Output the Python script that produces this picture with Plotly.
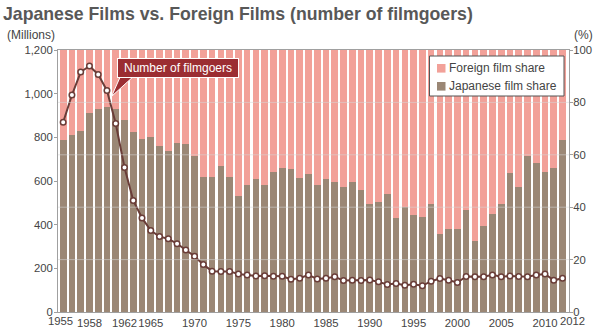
import plotly.graph_objects as go

# ---------------- data ----------------
years = list(range(1955, 2013))

filmgoers_millions = [
    869, 994, 1099, 1127, 1088, 1014, 863, 662, 511, 431,
    373, 346, 335, 313, 284, 255, 217, 187, 185, 186,
    174, 170, 165, 166, 164, 164, 150, 155, 170, 151,
    155, 161, 144, 145, 144, 146, 138, 126, 131, 123,
    127, 120, 141, 153, 145, 135, 163, 161, 162, 170,
    161, 165, 163, 161, 169, 174, 145, 155,
]

japanese_share = [
    65.7, 67.4, 69.1, 76.1, 77.4, 78.3, 77.3, 73.2, 68.8, 66.2,
    66.7, 63.2, 61.3, 64.5, 64.2, 59.4, 51.4, 51.7, 55.9, 51.4,
    44.4, 48.4, 50.7, 48.6, 53.5, 55.0, 54.4, 51.1, 52.6, 48.6,
    50.9, 49.7, 47.9, 49.6, 46.5, 41.3, 41.9, 44.9, 35.7, 40.0,
    36.9, 36.3, 41.3, 29.9, 31.7, 31.5, 38.9, 27.1, 33.0, 37.5,
    41.3, 53.2, 47.7, 59.5, 56.9, 53.6, 54.9, 65.7,
]
foreign_share = [round(100 - v, 1) for v in japanese_share]

x_tick_years = [1958, 1962, 1965, 1970, 1975, 1980, 1985,
                1990, 1995, 2000, 2005, 2010]
first_year_label = "1955"
last_year_label = "2012"
left_ticks = [0, 200, 400, 600, 800, 1000, 1200]
right_ticks = [0, 20, 40, 60, 80, 100]
grid_levels = [20, 40, 60, 80]

title_text = "Japanese Films vs. Foreign Films (number of filmgoers)"
callout_text = "Number of filmgoers"
legend_labels = ["Foreign film share", "Japanese film share"]

# ---------------- style ----------------
PINK = "#F2A199"
BROWN = "#9B8775"
LINE = "#6A3D38"
RED = "#9B2D32"
AXIS = "#A0A0A0"
TXT = "#444444"
FONT = "Liberation Sans, Arial, Helvetica, sans-serif"
TICK_SIZE = 11.3

L, R, T, B = 58, 24, 50, 18
W, H = 593, 330
PW, PH = W - L - R, H - T - B


def px(X):
    return (X - L) / PW


def py(Y):
    return (H - B - Y) / PH


fig = go.Figure()

fig.add_trace(go.Bar(
    x=years, y=japanese_share, name=legend_labels[1],
    marker=dict(color=BROWN, line=dict(width=0)), yaxis="y",
    showlegend=False, hoverinfo="skip",
))
fig.add_trace(go.Bar(
    x=years, y=foreign_share, name=legend_labels[0],
    marker=dict(color=PINK, line=dict(width=0)), yaxis="y",
    showlegend=False, hoverinfo="skip",
))
fig.add_trace(go.Scatter(
    x=years, y=filmgoers_millions, name=callout_text, yaxis="y2",
    mode="lines+markers", showlegend=False,
    line=dict(color=LINE, width=2),
    marker=dict(symbol="circle", size=5.5, color="white",
                line=dict(color=LINE, width=1.5)),
))

shapes = []
for g in grid_levels:
    shapes.append(dict(type="line", xref="paper", yref="y", x0=0, x1=1,
                       y0=g, y1=g, layer="above",
                       line=dict(color="rgba(215,215,215,0.55)", width=1)))
# callout pointer
shapes.append(dict(
    type="path", xref="paper", yref="paper", layer="above",
    path=f"M {px(121)} {py(75)} L {px(111.5)} {py(96.5)} L {px(135)} {py(75)} Z",
    fillcolor=RED, line=dict(color="white", width=1),
))
# legend box and swatches
shapes.append(dict(type="rect", xref="paper", yref="paper", layer="above",
                   x0=px(429.5), x1=px(564), y0=py(56), y1=py(96),
                   fillcolor="white", line=dict(color="#555555", width=1)))
for i, col in enumerate([PINK, BROWN]):
    yc = 68.3 + i * 18
    shapes.append(dict(type="rect", xref="paper", yref="paper", layer="above",
                       x0=px(437), x1=px(445.5), y0=py(yc - 4.3), y1=py(yc + 4.3),
                       fillcolor=col, line=dict(width=0)))

annotations = [
    dict(text=callout_text, xref="paper", yref="paper",
         x=px(177.5), y=py(68.3), xanchor="center", yanchor="middle",
         showarrow=False, font=dict(family=FONT, size=12, color="white"),
         bgcolor=RED, bordercolor="white", borderwidth=1, borderpad=2,
         width=116, height=14),
    dict(text="(Millions)", xref="paper", yref="paper",
         x=px(5), y=py(35), xanchor="left", yanchor="middle",
         showarrow=False, font=dict(family=FONT, size=12, color=TXT)),
    dict(text="(%)", xref="paper", yref="paper",
         x=px(572), y=py(35), xanchor="left", yanchor="middle",
         showarrow=False, font=dict(family=FONT, size=12, color=TXT)),
    dict(text=first_year_label, xref="x", yref="paper",
         x=years[0], y=0, xanchor="center", yanchor="top",
         xshift=-2.5, yshift=-1,
         showarrow=False, font=dict(family=FONT, size=TICK_SIZE, color=TXT)),
    dict(text=last_year_label, xref="x", yref="paper",
         x=years[-1], y=0, xanchor="center", yanchor="top",
         xshift=9.5, yshift=-1,
         showarrow=False, font=dict(family=FONT, size=TICK_SIZE, color=TXT)),
]
for i, lab in enumerate(legend_labels):
    annotations.append(dict(text=lab, xref="paper", yref="paper",
                            x=px(446.5), y=py(68.3 + i * 18),
                            xanchor="left", yanchor="middle", showarrow=False,
                            font=dict(family=FONT, size=12, color=TXT)))

fig.update_layout(
    template="none",
    width=W, height=H,
    margin=dict(l=L, r=R, t=T, b=B, autoexpand=False),
    paper_bgcolor="white", plot_bgcolor="white",
    barmode="stack", bargap=0.24,
    font=dict(family=FONT, size=12, color=TXT),
    title=dict(text=title_text, xref="container", yref="container",
               x=3 / W, xanchor="left", y=1 - 13.5 / H, yanchor="middle",
               automargin=False,
               font=dict(family=FONT, size=17.7, color="#585858", weight=700)),
    xaxis=dict(range=[1954.41, 2012.74], tickmode="array",
               tickvals=x_tick_years, ticks="", showgrid=False,
               tickangle=0, automargin=False,
               showline=True, linecolor=AXIS, linewidth=1, mirror=True,
               tickfont=dict(family=FONT, size=TICK_SIZE, color=TXT),
               zeroline=False),
    yaxis=dict(side="right", range=[0, 100], tickmode="array",
               tickvals=right_ticks, ticks="outside", ticklen=3,
               tickcolor=AXIS, showgrid=False, zeroline=False,
               automargin=False, ticklabelstandoff=-2,
               showline=True, linecolor=AXIS, linewidth=1, mirror=True,
               tickfont=dict(family=FONT, size=TICK_SIZE, color=TXT)),
    yaxis2=dict(side="left", overlaying="y", range=[0, 1200],
                tickmode="array", tickvals=left_ticks, tickformat=",",
                ticks="outside", ticklen=3, tickcolor=AXIS,
                showgrid=False, zeroline=False, showline=False,
                automargin=False, ticklabelstandoff=-1,
                tickfont=dict(family=FONT, size=TICK_SIZE, color=TXT)),
    shapes=shapes,
    annotations=annotations,
    showlegend=False,
)

fig.write_html("out.html")
